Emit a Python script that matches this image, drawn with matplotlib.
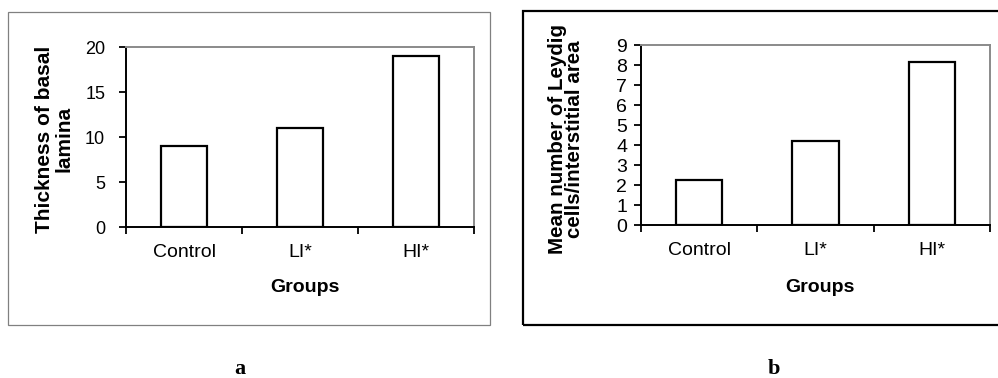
import matplotlib
matplotlib.use("Agg")
import matplotlib.pyplot as plt
from matplotlib.patches import Rectangle

groups = ["Control", "LI*", "HI*"]
thickness = [9, 11, 19]
leydig = [2.25, 4.2, 8.15]
yticks_a = [0, 5, 10, 15, 20]
yticks_b = list(range(0, 10))

W, H = 998, 378
fig = plt.figure(figsize=(W / 100, H / 100), dpi=100)
plt.rcParams['font.family'] = ['Liberation Sans', 'DejaVu Sans']


def px_axes(left, top, right, bottom):
    return fig.add_axes([left / W, 1 - bottom / H, (right - left) / W, (bottom - top) / H])


def fx(x):
    return x / W


def fy(y):
    return 1 - y / H


# outer frames
fig.add_artist(Rectangle((fx(8), fy(325)), fx(482), (325 - 12) / H, transform=fig.transFigure,
                         fill=False, edgecolor="#808080", lw=0.9))
fig.add_artist(Rectangle((fx(523), fy(325)), fx(520), (325 - 11) / H, transform=fig.transFigure,
                         fill=False, edgecolor="black", lw=1.6))


def style(ax, vals, yticks, ymax, tick_pad, tick_len, ysize):
    x = range(len(groups))
    ax.bar(x, vals, width=0.4, color="white", edgecolor="black", linewidth=1.6, zorder=3)
    ax.set_xlim(-0.5, len(groups) - 0.5)
    ax.set_ylim(0, ymax)
    ax.set_yticks(yticks)
    ax.set_xticks(list(x))
    ax.set_xticklabels(groups, fontsize=14)
    ax.set_xticks([i - 0.5 for i in range(len(groups) + 1)], minor=True)
    ax.tick_params(axis="x", which="major", length=0, pad=12)
    ax.tick_params(axis="x", which="minor", length=5, width=1.3, direction="out")
    ax.tick_params(axis="y", length=tick_len, width=1.3, direction="out", labelsize=ysize, pad=tick_pad)
    for s in ["left", "bottom"]:
        ax.spines[s].set_color("black")
        ax.spines[s].set_linewidth(1.4)
    for s in ["top", "right"]:
        ax.spines[s].set_color("#8a8a8a")
        ax.spines[s].set_linewidth(1.4)
    ax.set_facecolor("white")


ax1 = px_axes(126, 47, 474, 227)
style(ax1, thickness, yticks_a, 20, 10, 5, 13)
ax2 = px_axes(641, 45, 990, 225)
style(ax2, leydig, yticks_b, 9, 5, 5, 14)

fig.text(fx(54), fy(139), "Thickness of basal\nlamina", rotation=90, ha="center", va="center",
         fontsize=15, fontweight="bold", multialignment="center", linespacing=1.05)
fig.text(fx(566), fy(139), "Mean number of Leydig\ncells/interstitial area", rotation=90, ha="center",
         va="center", fontsize=14.8, fontweight="bold", multialignment="center", linespacing=0.85)
fig.text(fx(305), fy(287), "Groups", ha="center", va="center", fontsize=14, fontweight="bold")
fig.text(fx(820), fy(288), "Groups", ha="center", va="center", fontsize=14, fontweight="bold")

fig.text(fx(240), fy(374), "a", ha="center", va="baseline", fontsize=16, fontweight="bold",
         family=["Liberation Serif", "DejaVu Serif"])
fig.text(fx(774), fy(374), "b", ha="center", va="baseline", fontsize=16, fontweight="bold",
         family=["Liberation Serif", "DejaVu Serif"])

fig.savefig("out.png", dpi=100, facecolor="white")
